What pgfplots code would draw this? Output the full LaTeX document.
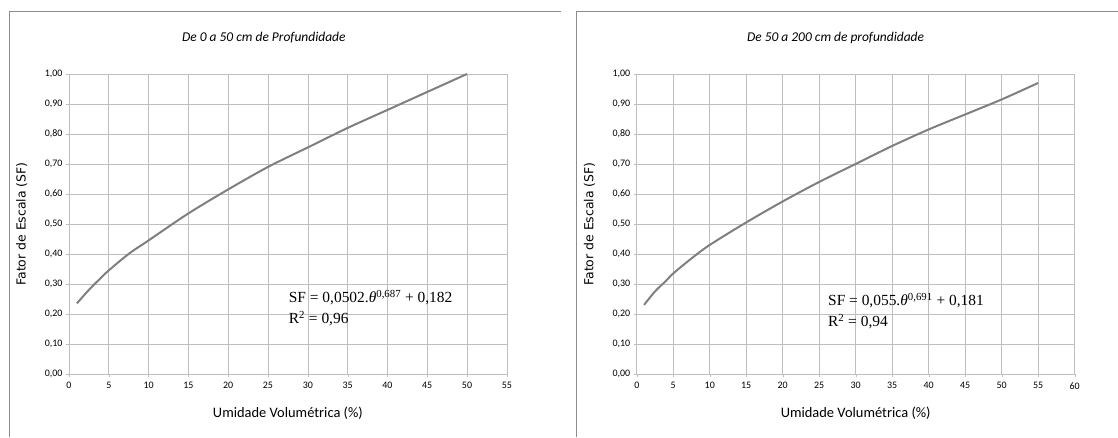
\documentclass[border=0pt]{standalone}
\usepackage{fontspec}
\setmainfont{Carlito}
\newfontfamily\eqfont{Liberation Serif}
\newfontfamily\labfont{DejaVu Sans}
\usepackage{pgfplots}
\pgfplotsset{compat=1.18}
\definecolor{gridc}{HTML}{BFBFBF}
\definecolor{curve}{HTML}{7F7F7F}
\definecolor{frame}{HTML}{8C8C8C}

\pgfplotsset{sfchart/.style={
  scale only axis, width=438bp, height=300bp,
  ymin=0, ymax=1, ytick={0,0.1,...,1.0},
  xmin=0,
  grid=major, grid style={gridc, line width=0.6pt},
  axis line style={gridc, line width=0.6pt},
  axis x line*=bottom, axis y line*=left,
  tick style={gridc},
  tick align=outside, major tick length=3bp,
  y tick label style={font=\fontsize{10}{11}\selectfont, /pgf/number format/.cd, fixed, fixed zerofill, precision=2, use comma},
  x tick label style={font=\fontsize{10}{11}\selectfont, anchor=north, yshift=-2bp},
  /pgf/number format/assume math mode=true,
  xlabel={Umidade Volumétrica (\%)},
  xlabel style={font=\fontsize{14.5}{16}\selectfont, at={(axis description cs:0.5,-0.13)}, anchor=center},
  ylabel={Fator de Escala (SF)},
  ylabel style={font=\labfont\fontsize{12.5}{14}\selectfont, at={(axis description cs:-0.108,0.5)}, anchor=center},
  title style={font=\fontsize{13.5}{15}\selectfont\itshape, anchor=center},
}}

\begin{document}
\begin{tikzpicture}
\path (0bp,0bp) rectangle (1118bp,437bp);
\draw[frame, line width=0.8pt] (9bp,0bp) -- (9bp,426bp) -- (561bp,426bp);
\draw[frame, line width=0.8pt] (577bp,0bp) -- (577bp,426bp) -- (1118bp,426bp);

\begin{axis}[sfchart, at={(69bp,63bp)}, anchor=south west, xmax=55,
  xtick={0,5,10,15,20,25,30,35,40,45,50,55},
  title={De 0 a 50 cm de Profundidade},
  title style={at={(axis description cs:0.445,1.10)}}]
\addplot[curve, line width=2pt, smooth] coordinates {
(1,0.235) (2.5,0.28) (4,0.32) (5,0.345) (7.5,0.40) (10,0.445) (15,0.535) (20,0.615)
(25,0.69) (30,0.755) (35,0.82) (40,0.88) (45,0.94) (50,1.0)};
\node[anchor=west, font=\eqfont\fontsize{15.5}{17}\selectfont, inner sep=0pt] at (axis cs:27.6,0.255) {SF = 0,0502.\textit{θ}\textsuperscript{0,687} + 0,182};
\node[anchor=west, font=\eqfont\fontsize{15.5}{17}\selectfont, inner sep=0pt] at (axis cs:27.6,0.183) {R\textsuperscript{2} = 0,96};
\end{axis}

\begin{axis}[sfchart, at={(637bp,63bp)}, anchor=south west, xmax=60,
  xtick={0,5,10,15,20,25,30,35,40,45,50,55,60},
  title={De 50 a 200 cm de profundidade},
  title style={at={(axis description cs:0.454,1.10)}}]
\addplot[curve, line width=2pt, smooth] coordinates {
(1,0.23) (2.5,0.275) (4,0.31) (5,0.335) (7.5,0.385) (10,0.43) (15,0.505) (20,0.575)
(25,0.64) (30,0.70) (35,0.76) (40,0.815) (45,0.865) (50,0.915) (55,0.97)};
\node[anchor=west, font=\eqfont\fontsize{15.5}{17}\selectfont, inner sep=0pt] at (axis cs:26.2,0.245) {SF = 0,055.\textit{θ}\textsuperscript{0,691} + 0,181};
\node[anchor=west, font=\eqfont\fontsize{15.5}{17}\selectfont, inner sep=0pt] at (axis cs:26.2,0.173) {R\textsuperscript{2} = 0,94};
\end{axis}
\end{tikzpicture}
\end{document}
